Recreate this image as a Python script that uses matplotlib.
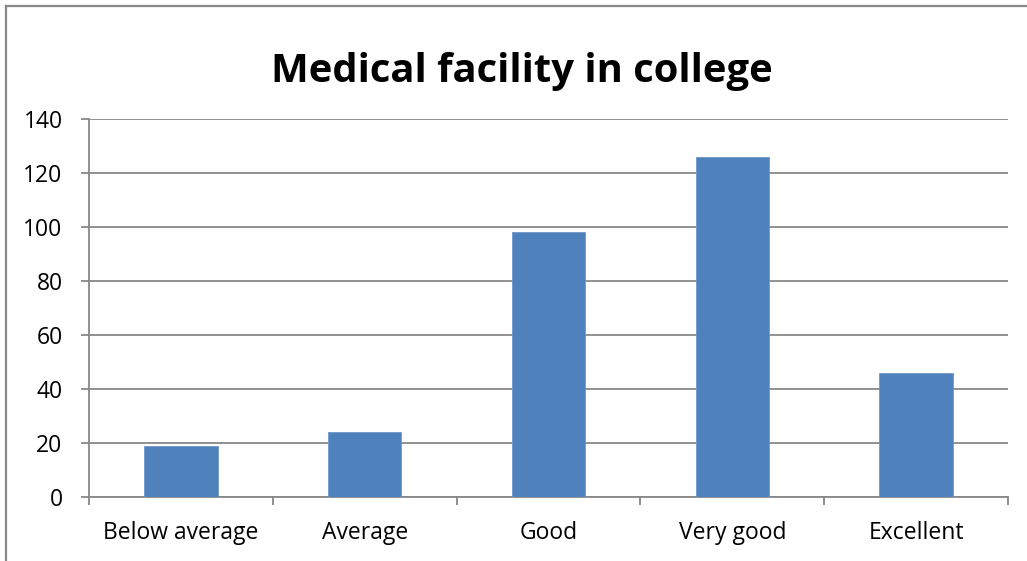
import matplotlib
matplotlib.use("Agg")
import matplotlib.pyplot as plt
from matplotlib.lines import Line2D

categories = ["Below average", "Average", "Good", "Very good", "Excellent"]
values = [19, 24, 98, 126, 46]
y_ticks = [0, 20, 40, 60, 80, 100, 120, 140]
title = "Medical facility in college"

W, H = 1027, 561
fig = plt.figure(figsize=(W / 100, H / 100), dpi=100)
ax = fig.add_axes([89 / W, 1 - 497 / H, (1008 - 89) / W, (497 - 119) / H])

grid_c = "#888888"
x = list(range(len(categories)))
ax.bar(x, values, width=0.4, color="#4F81BD", edgecolor="#6F97C9", linewidth=0.6, zorder=3)

ax.set_xlim(-0.5, len(categories) - 0.5)
ax.set_ylim(0, 140)
ax.set_yticks(y_ticks)
ax.set_yticklabels([str(v) for v in y_ticks])
ax.set_xticks(x)
ax.set_xticklabels(categories)
ax.set_xticks([i - 0.5 for i in range(len(categories) + 1)], minor=True)

ax.yaxis.grid(True, color=grid_c, linewidth=1.3, zorder=0)
ax.set_axisbelow(True)
for s in ["top", "right"]:
    ax.spines[s].set_visible(False)
for s in ["left", "bottom"]:
    ax.spines[s].set_color(grid_c)
    ax.spines[s].set_linewidth(1.3)

font = "Open Sans"
ax.tick_params(axis="y", length=6, width=1.3, color=grid_c, pad=13, labelsize=16.5)
ax.tick_params(axis="x", which="major", length=0, pad=17, labelsize=16.5)
ax.tick_params(axis="x", which="minor", length=6, width=1.3, color=grid_c)
for lab in ax.get_xticklabels() + ax.get_yticklabels():
    lab.set_fontfamily(font)

fig.text(522 / W, 1 - 82 / H, title, ha="center", va="baseline",
         fontsize=28.8, fontweight="bold", family=font)

# chart border (top and left)
fig.add_artist(Line2D([6 / W, 6 / W], [0, 1 - 6 / H], color="#888888", linewidth=1.6, transform=fig.transFigure))
fig.add_artist(Line2D([6 / W, 1], [1 - 6 / H, 1 - 6 / H], color="#888888", linewidth=1.6, transform=fig.transFigure))

fig.savefig("out.png", dpi=100)
